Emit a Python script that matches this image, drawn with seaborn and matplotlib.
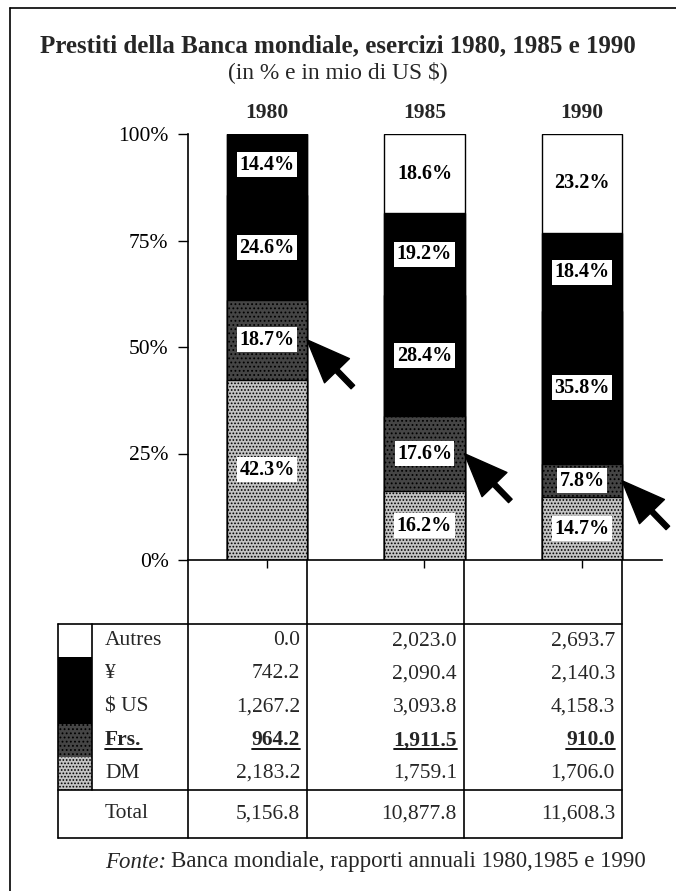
import matplotlib
matplotlib.use("Agg")
import matplotlib.pyplot as plt
import seaborn as sns
import pandas as pd

# données (mio US $)
years = ["1980", "1985", "1990"]
currencies = ["Autres", "¥", "$ US", "Frs.", "DM"]  # ordre du tableau (haut -> bas)
autres = [0.0, 2023.0, 2693.7]
yen = [742.2, 2090.4, 2140.3]
usd = [1267.2, 3093.8, 4158.3]
frs = [964.2, 1911.5, 910.0]
dm = [2183.2, 1759.1, 1706.0]
totals = [5156.8, 10877.8, 11608.3]

# pourcentages imprimés sur les barres
pct_autres = [0.0, 18.6, 23.2]
pct_yen = [14.4, 19.2, 18.4]
pct_usd = [24.6, 28.4, 35.8]
pct_frs = [18.7, 17.6, 7.8]
pct_dm = [42.3, 16.2, 14.7]

amounts = pd.DataFrame({"Autres": autres, "¥": yen, "$ US": usd, "Frs.": frs, "DM": dm}, index=years)
pcts = pd.DataFrame({"Autres": pct_autres, "¥": pct_yen, "$ US": pct_usd, "Frs.": pct_frs, "DM": pct_dm}, index=years)

stack_order = ["DM", "Frs.", "$ US", "¥", "Autres"]  # bas -> haut
share = amounts[stack_order].div(totals, axis=0) * 100
top = share.cumsum(axis=1)
bottom = top - share

styles = {
    "Autres": dict(fc="white", hatch=None),
    "¥": dict(fc="black", hatch=None),
    "$ US": dict(fc="black", hatch=None),
    "Frs.": dict(fc="#454545", hatch="...."),
    "DM": dict(fc="#c4c4c4", hatch="....."),
}

sns.set_theme(style="ticks")
plt.rcParams["font.family"] = ["Liberation Serif", "DejaVu Serif"]
plt.rcParams["hatch.linewidth"] = 0.8

W, H = 676, 891
FS = 15.5  # taille du texte courant
fig = plt.figure(figsize=(W / 100, H / 100), dpi=100)

# axe "papier" en pixels pour le cadre, le tableau et les textes
ax0 = fig.add_axes([0, 0, 1, 1])
ax0.set_xlim(0, W)
ax0.set_ylim(H, 0)
ax0.axis("off")

# axe des barres
ax = fig.add_axes([188 / W, (H - 560) / H, 474 / W, 426 / H])
ax.patch.set_alpha(0)

bar_w = 0.508
for col in stack_order[::-1]:
    st = styles[col]
    kw = dict(hatch=st["hatch"]) if st["hatch"] else {}
    sns.barplot(x=years, y=top[col].values, color=st["fc"], saturation=1,
                edgecolor="black", linewidth=1.0, width=bar_w, ax=ax, **kw)

ax.set_xlim(-0.5016, 2.508)
ax.set_ylim(0, 100)
ax.set_xlabel("")
ax.set_ylabel("")
ax.set_yticks([0, 25, 50, 75, 100])
ax.set_yticklabels(["0%", "25%", "50%", "75%", "100%"], fontsize=FS)
ax.set_xticks([0, 1, 2])
ax.set_xticklabels([])
ax.tick_params(axis="y", direction="out", length=7, width=1, pad=7, colors="black")
ax.tick_params(axis="x", direction="out", length=6, width=1, colors="black")
for s in ["top", "right"]:
    ax.spines[s].set_visible(False)
for s in ["left", "bottom"]:
    ax.spines[s].set_color("black")
    ax.spines[s].set_linewidth(1.2)

# étiquettes des pourcentages
for col in stack_order:
    for i, y in enumerate(years):
        p = pcts.loc[y, col]
        if p <= 0:
            continue
        mid = bottom.loc[y, col] + share.loc[y, col] / 2
        ax.text(i, mid, f"{p:.1f}%", ha="center", va="center", fontsize=14.5,
                fontweight="bold", color="black",
                bbox=dict(boxstyle="square,pad=0.12", fc="white", ec="none"))

# flèches vers les Frs.
for i, y in enumerate(years):
    mid = bottom.loc[y, "Frs."] + share.loc[y, "Frs."] / 2
    ax.annotate("", xy=(i + bar_w / 2, mid), xytext=(33, -34), textcoords="offset points",
                arrowprops=dict(arrowstyle="simple,head_length=1.55,head_width=1.25,tail_width=0.18",
                                fc="black", ec="black", shrinkA=0, shrinkB=0,
                                mutation_scale=20))

# années au-dessus des barres
for i, y in enumerate(years):
    ax.text(i, 102.5, y, ha="center", va="bottom", fontsize=15.5, fontweight="bold")

# cadre
ax0.plot([10, W], [8, 8], color="black", lw=1.2)
ax0.plot([10, 10], [8, H], color="black", lw=1.2)

# titres
ax0.text(338, 46, "Prestiti della Banca mondiale, esercizi 1980, 1985 e 1990",
         ha="center", va="center", fontsize=18, fontweight="bold")
ax0.text(338, 72, "(in % e in mio di US $)", ha="center", va="center", fontsize=16.8)

# tableau
col_lines = [188, 307, 464, 622]
t_left, sw_right, t_top, t_sep, t_bot = 58, 92, 624, 790, 838
row_h = (t_sep - t_top) / len(currencies)
lk = dict(color="black", lw=1.2)
for x in col_lines:
    ax0.plot([x, x], [560, t_bot], **lk)
for yy in [t_top, t_sep, t_bot]:
    ax0.plot([t_left, col_lines[-1]], [yy, yy], **lk)
ax0.plot([t_left, t_left], [t_top, t_bot], **lk)

frs_texts = []
for r, cur in enumerate(currencies):
    y0 = t_top + r * row_h
    st = styles[cur]
    ax0.add_patch(plt.Rectangle((t_left, y0), sw_right - t_left, row_h, fc=st["fc"],
                                ec="black" if st["hatch"] else "none", lw=0,
                                hatch=st["hatch"], zorder=1))
    yc = y0 + row_h / 2
    bold = "bold" if cur == "Frs." else "normal"
    t = ax0.text(105, yc, cur, ha="left", va="center", fontsize=FS, fontweight=bold)
    if cur == "Frs.":
        frs_texts.append(t)
    for j, y in enumerate(years):
        t = ax0.text(col_lines[j + 1] - 7, yc, f"{amounts.loc[y, cur]:,.1f}", ha="right",
                     va="center", fontsize=FS, fontweight=bold)
        if cur == "Frs.":
            frs_texts.append(t)
ax0.plot([sw_right, sw_right], [t_top, t_sep], **lk)

yt = (t_sep + t_bot) / 2
ax0.text(105, yt, "Total", ha="left", va="center", fontsize=FS)
for j, tot in enumerate(totals):
    ax0.text(col_lines[j + 1] - 7, yt, f"{tot:,.1f}", ha="right", va="center", fontsize=FS)

# source
f1 = ax0.text(105, 862, "Fonte:", ha="left", va="center", fontsize=16.5, style="italic")

fig.canvas.draw()
inv = ax0.transData.inverted()
r = fig.canvas.get_renderer()
for t in frs_texts:
    bb = t.get_window_extent(r)
    (xa, ya), (xb, yb) = inv.transform([(bb.x0, bb.y0), (bb.x1, bb.y1)])
    ax0.plot([xa, xb], [ya - 1, ya - 1], color="black", lw=1.3)
bb = f1.get_window_extent(r)
xe = inv.transform([(bb.x1, bb.y0)])[0][0]
ax0.text(xe + 5, 862, "Banca mondiale, rapporti annuali 1980,1985 e 1990",
         ha="left", va="center", fontsize=16.5)

fig.savefig("out.png", dpi=100)
